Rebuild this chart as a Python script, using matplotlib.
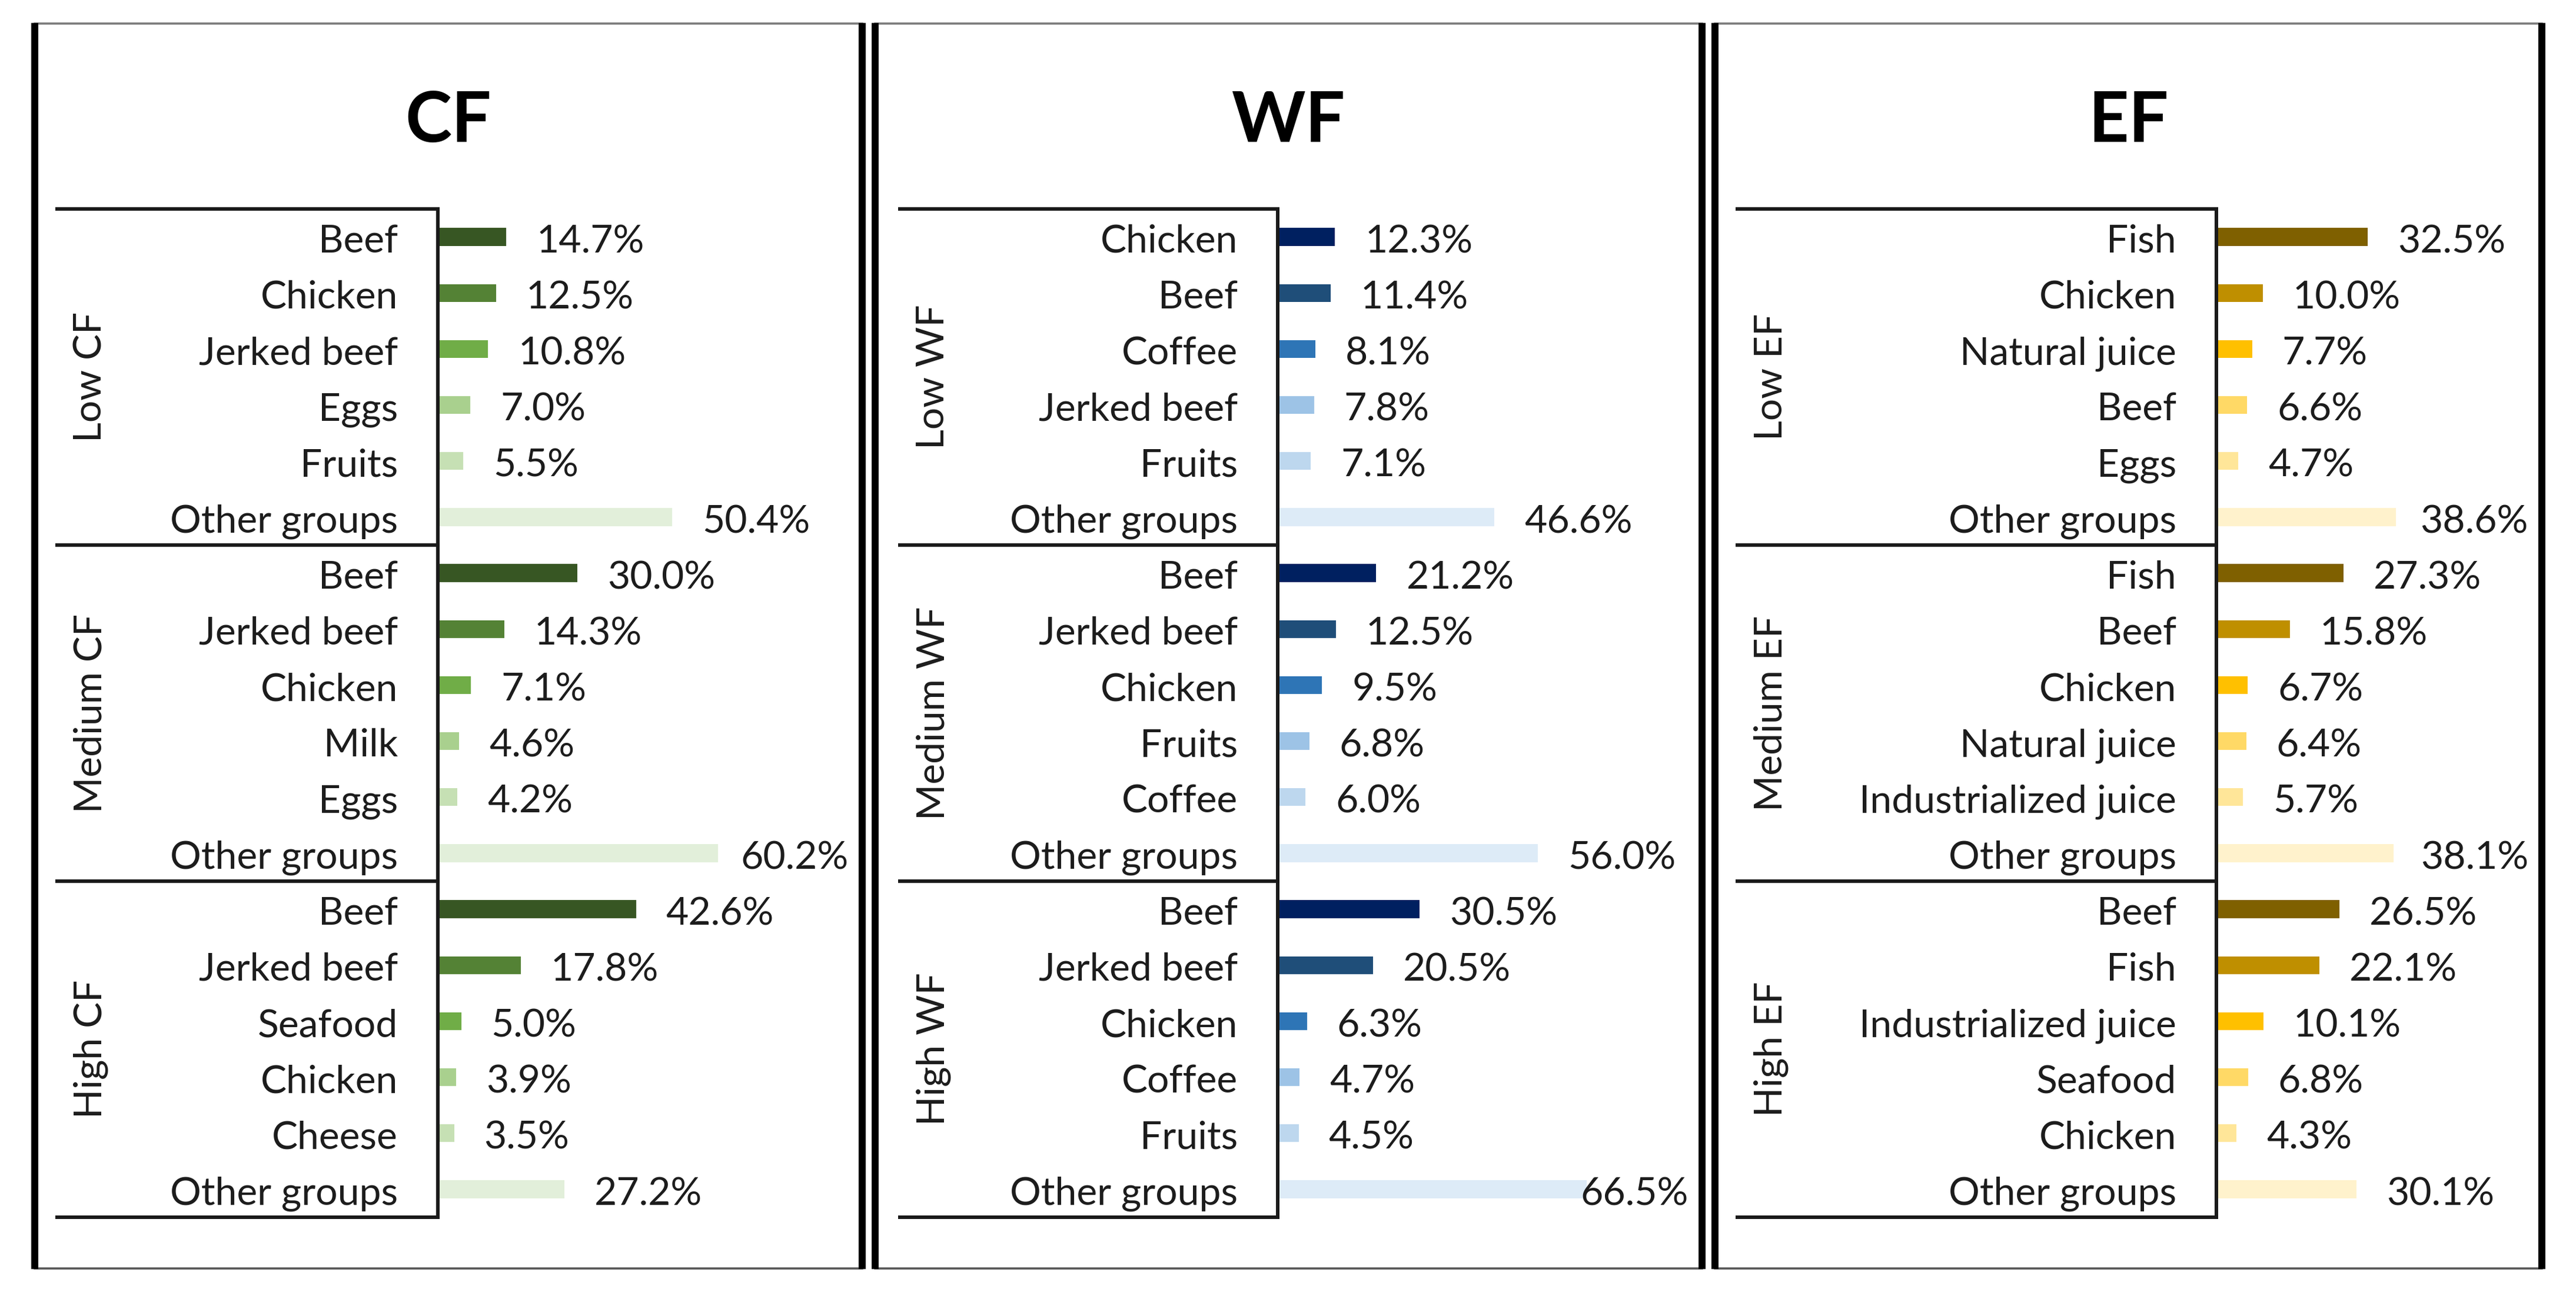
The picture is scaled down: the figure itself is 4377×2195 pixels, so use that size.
import matplotlib
matplotlib.use('Agg')
import matplotlib.pyplot as plt
from matplotlib.lines import Line2D

# ---------------- data ----------------
panel_titles = ['CF', 'WF', 'EF']

cf_groups = ['Low CF', 'Medium CF', 'High CF']
cf_low_items = ['Beef', 'Chicken', 'Jerked beef', 'Eggs', 'Fruits', 'Other groups']
cf_low_vals = [14.7, 12.5, 10.8, 7.0, 5.5, 50.4]
cf_med_items = ['Beef', 'Jerked beef', 'Chicken', 'Milk', 'Eggs', 'Other groups']
cf_med_vals = [30.0, 14.3, 7.1, 4.6, 4.2, 60.2]
cf_high_items = ['Beef', 'Jerked beef', 'Seafood', 'Chicken', 'Cheese', 'Other groups']
cf_high_vals = [42.6, 17.8, 5.0, 3.9, 3.5, 27.2]

wf_groups = ['Low WF', 'Medium WF', 'High WF']
wf_low_items = ['Chicken', 'Beef', 'Coffee', 'Jerked beef', 'Fruits', 'Other groups']
wf_low_vals = [12.3, 11.4, 8.1, 7.8, 7.1, 46.6]
wf_med_items = ['Beef', 'Jerked beef', 'Chicken', 'Fruits', 'Coffee', 'Other groups']
wf_med_vals = [21.2, 12.5, 9.5, 6.8, 6.0, 56.0]
wf_high_items = ['Beef', 'Jerked beef', 'Chicken', 'Coffee', 'Fruits', 'Other groups']
wf_high_vals = [30.5, 20.5, 6.3, 4.7, 4.5, 66.5]

ef_groups = ['Low EF', 'Medium EF', 'High EF']
ef_low_items = ['Fish', 'Chicken', 'Natural juice', 'Beef', 'Eggs', 'Other groups']
ef_low_vals = [32.5, 10.0, 7.7, 6.6, 4.7, 38.6]
ef_med_items = ['Fish', 'Beef', 'Chicken', 'Natural juice', 'Industrialized juice', 'Other groups']
ef_med_vals = [27.3, 15.8, 6.7, 6.4, 5.7, 38.1]
ef_high_items = ['Beef', 'Fish', 'Industrialized juice', 'Seafood', 'Chicken', 'Other groups']
ef_high_vals = [26.5, 22.1, 10.1, 6.8, 4.3, 30.1]

cf_colors = ['#375623', '#548235', '#70AD47', '#A9D08E', '#C6E0B4', '#E2EFDA']
wf_colors = ['#002060', '#1F4E79', '#2E75B6', '#9DC3E6', '#BDD7EE', '#DDEBF7']
ef_colors = ['#7F6000', '#BF8F00', '#FFC000', '#FFD966', '#FFE699', '#FFF2CC']

panels = [
    (cf_groups, [cf_low_items, cf_med_items, cf_high_items],
     [cf_low_vals, cf_med_vals, cf_high_vals], cf_colors),
    (wf_groups, [wf_low_items, wf_med_items, wf_high_items],
     [wf_low_vals, wf_med_vals, wf_high_vals], wf_colors),
    (ef_groups, [ef_low_items, ef_med_items, ef_high_items],
     [ef_low_vals, ef_med_vals, ef_high_vals], ef_colors),
]

# ---------------- layout (pixels) ----------------
W, H, DPI = 4377, 2195, 100
plt.rcParams['font.family'] = ['Lato', 'DejaVu Sans']
TXT = '#1c1c1c'
FS = 47.5

panel_l = [59, 1487, 2914]
panel_r = [1465, 2892, 4319]
panel_t, panel_b = 40, 2155
table_l = [97, 1529, 2952]
axis_x = [744, 2171, 3766]
tab_t, tab_b = 355, 2068
SCALE = 7.9  # px per percent
ROW = (tab_b - tab_t) / 18.0

fig = plt.figure(figsize=(W / DPI, H / DPI), dpi=DPI)
fig.patch.set_facecolor('white')
renderer = fig.canvas.get_renderer()


def fx(x):
    return x / W


def fy(y):
    return 1 - y / H


for p, (groups, items_list, vals_list, colors) in enumerate(panels):
    # panel frame
    L, R = panel_l[p], panel_r[p]
    fig.add_artist(Line2D([fx(L), fx(R)], [fy(panel_t), fy(panel_t)], lw=2.6, color='#7a7a7a',
                          transform=fig.transFigure))
    fig.add_artist(Line2D([fx(L), fx(R)], [fy(panel_b), fy(panel_b)], lw=2.6, color='#555555',
                          transform=fig.transFigure))
    for xx in (L, R):
        fig.add_artist(Line2D([fx(xx), fx(xx)], [fy(panel_t - 1), fy(panel_b + 1)], lw=8.6,
                              color='black', transform=fig.transFigure, solid_capstyle='butt'))
    # title
    fig.text(fx((L + R) / 2), fy(241), panel_titles[p], ha='center', va='baseline',
             fontsize=86, fontweight='bold', color='black')

    # axes for the bar table
    ax_r = R - 15
    ax = fig.add_axes([fx(table_l[p]), fy(tab_b), fx(ax_r - table_l[p]), (tab_b - tab_t) / H])
    ax.set_xlim(-(axis_x[p] - table_l[p]) / SCALE, (ax_r - axis_x[p]) / SCALE)
    ax.set_ylim(18, 0)
    ax.axis('off')
    xmin, xmax = ax.get_xlim()
    label_limit = xmax - 8 / SCALE

    for g in range(3):
        items = items_list[g]
        vals = vals_list[g]
        ys = [g * 6 + i + 0.5 for i in range(6)]
        ax.barh(ys, vals, height=0.32, left=0, color=colors, clip_on=False)
        for y, name, v in zip(ys, items, vals):
            ax.text(-68 / SCALE, y + 0.275, name, ha='right', va='baseline',
                    fontsize=FS, color=TXT, clip_on=False)
            t = ax.text(v + 51 / SCALE, y + 0.28, f'{v:.1f}%', ha='left', va='baseline',
                        fontsize=FS, color=TXT, clip_on=False)
            bb = t.get_window_extent(renderer=renderer)
            right_data = ax.transData.inverted().transform((bb.x1, bb.y0))[0]
            if right_data > label_limit:
                t.set_ha('right')
                t.set_x(label_limit)
        ax.text(xmin + 57 / SCALE, g * 6 + 3, groups[g], rotation=90, ha='center',
                va='center', fontsize=FS, color=TXT, clip_on=False)

    # table lines
    for g in range(4):
        ax.plot([xmin, 0], [g * 6, g * 6], color='#1a1a1a', lw=4.3, clip_on=False,
                solid_capstyle='projecting')
    ax.plot([0, 0], [0, 18], color='#1a1a1a', lw=4.3, clip_on=False,
            solid_capstyle='projecting')

fig.savefig('out.png', dpi=DPI, facecolor='white')
